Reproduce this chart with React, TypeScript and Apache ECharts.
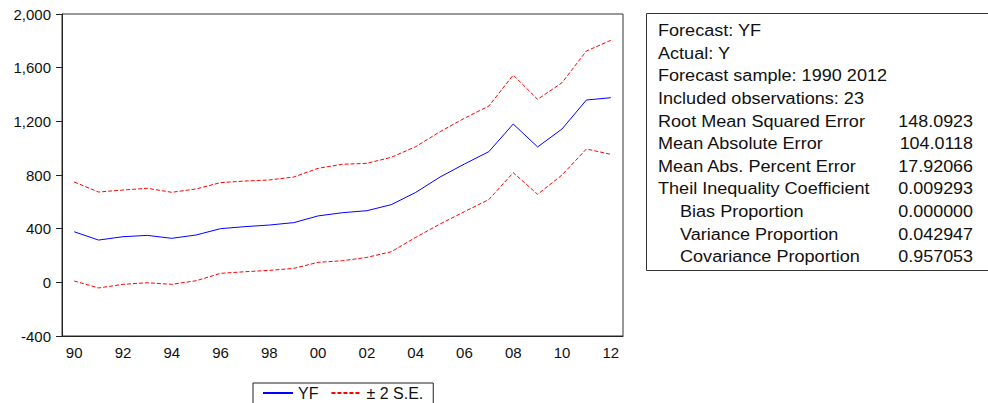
import React, { useEffect, useRef } from "react";
import * as echarts from "echarts";

const years = ["90","91","92","93","94","95","96","97","98","99","00","01","02","03","04","05","06","07","08","09","10","11","12"];
const yf = [377, 315, 340, 350, 328, 353, 400, 415, 427, 445, 495, 519, 534, 579, 670, 785, 882, 974, 1180, 1009, 1143, 1359, 1376];
const upper = [748, 673, 688, 701, 671, 696, 743, 755, 763, 785, 850, 880, 887, 932, 1011, 1123, 1223, 1314, 1545, 1364, 1488, 1724, 1804];
const lower = [10, -42, -15, -3, -15, 12, 67, 79, 89, 104, 149, 161, 186, 228, 335, 435, 527, 617, 817, 656, 800, 994, 954];
const yTicks = { min: -400, max: 2000, interval: 400 };

const statLabels = [
  "Forecast: YF",
  "Actual: Y",
  "Forecast sample: 1990 2012",
  "Included observations: 23",
  "Root Mean Squared Error",
  "Mean Absolute Error",
  "Mean Abs. Percent Error",
  "Theil Inequality Coefficient",
  "Bias Proportion",
  "Variance Proportion",
  "Covariance Proportion",
];
const statValues = ["", "", "", "", "148.0923", "104.0118", "17.92066", "0.009293", "0.000000", "0.042947", "0.957053"];
const statIndent = [false, false, false, false, false, false, false, false, true, true, true];

const FONT = "Liberation Sans";

export default function App() {
  const ref = useRef<HTMLDivElement>(null);
  useEffect(() => {
    if (!ref.current) return;
    const chart = echarts.init(ref.current, undefined, { renderer: "svg" });
    const graphics: any[] = [
      {
        type: "rect",
        shape: { x: 646.5, y: 13.5, width: 360, height: 257 },
        style: { fill: "#fff", stroke: "#333", lineWidth: 1 },
        z: 1,
      },
    ];
    statLabels.forEach((t, i) => {
      const y = 31 + i * 22.6;
      graphics.push({
        type: "text",
        x: statIndent[i] ? 680 : 658,
        y,
        scaleX: 1.13,
        z: 2,
        style: { text: t, fontSize: 16, fontFamily: FONT, fill: "#111", verticalAlign: "middle", align: "left" },
      });
      if (statValues[i]) {
        graphics.push({
          type: "text",
          x: 973,
          y,
          scaleX: 1.12,
          z: 2,
          style: { text: statValues[i], fontSize: 16, fontFamily: FONT, fill: "#111", verticalAlign: "middle", align: "right" },
        });
      }
    });
    chart.setOption({
      animation: false,
      backgroundColor: "#fff",
      textStyle: { fontFamily: FONT },
      grid: { left: 62, top: 14, width: 561, height: 322, show: true, borderColor: "#333", borderWidth: 1, backgroundColor: "transparent" },
      legend: {
        left: 253,
        top: 383,
        padding: [2, 10, 30, 9],
        itemGap: 12,
        itemWidth: 30,
        itemHeight: 16,
        borderColor: "#222",
        borderWidth: 1,
        itemStyle: { opacity: 0 },
        textStyle: { fontSize: 16, color: "#111", fontFamily: FONT },
        data: ["YF", "± 2 S.E."],
      },
      xAxis: {
        type: "category",
        data: years,
        boundaryGap: true,
        axisLine: { onZero: false, lineStyle: { color: "#222", width: 1 } },
        axisTick: { interval: 0, length: 6, lineStyle: { color: "#222" } },
        axisLabel: { interval: 1, fontSize: 15, color: "#111", margin: 9, fontFamily: FONT },
        splitLine: { show: false },
      },
      yAxis: {
        type: "value",
        min: yTicks.min,
        max: yTicks.max,
        interval: yTicks.interval,
        axisLine: { show: true, lineStyle: { color: "#222", width: 1 } },
        axisTick: { show: true, length: 6, lineStyle: { color: "#222" } },
        axisLabel: {
          fontSize: 15,
          color: "#111",
          margin: 11,
          fontFamily: FONT,
          formatter: (v: number) => v.toLocaleString("en-US"),
        },
        splitLine: { show: false },
      },
      series: [
        { name: "YF", type: "line", data: yf, symbol: "none", lineStyle: { color: "#0000ff", width: 1 }, itemStyle: { color: "#0000ff" } },
        { name: "± 2 S.E.", type: "line", data: upper, symbol: "none", lineStyle: { color: "#ff0000", width: 1, type: [4, 2] }, itemStyle: { color: "#ff0000" } },
        { name: "± 2 S.E.", type: "line", data: lower, symbol: "none", lineStyle: { color: "#ff0000", width: 1, type: [4, 2] }, itemStyle: { color: "#ff0000" } },
      ],
      graphic: graphics,
    });
    return () => chart.dispose();
  }, []);
  return <div ref={ref} style={{ position: "fixed", left: 0, top: 0, width: 988, height: 403 }} />;
}
